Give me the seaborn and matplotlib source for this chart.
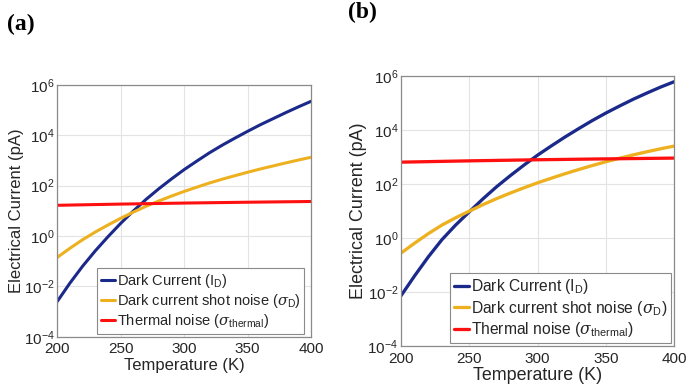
import numpy as np
import pandas as pd
import matplotlib
matplotlib.use("Agg")
import matplotlib.pyplot as plt
import seaborn as sns
from matplotlib.ticker import FixedLocator, FixedFormatter

# ---------------- data ----------------
temp_fine = [200, 210, 220, 230, 240, 250, 260, 270, 280, 290, 300,
             310, 320, 330, 340, 350, 360, 370, 380, 390, 400]
temp_coarse = [200, 250, 300, 350, 400]

# panel (a), pA
dark_a = [0.00251, 0.0135, 0.0631, 0.257, 0.933, 3.16, 9.77, 28.2, 74.1, 182, 427,
          933, 1995, 3981, 7586, 14125, 25704, 44668, 77625, 131826, 218776]
shot_a = [0.141, 0.324, 0.708, 1.43, 2.72, 5.01, 8.81, 15.0, 24.3, 38.0, 58.2,
          86.1, 126, 178, 245, 335, 452, 596, 785, 1023, 1318]
thermal_a = [16.4, 18.3, 20.1, 21.7, 23.2]

# panel (b), pA
dark_b = [0.00724, 0.0398, 0.200, 0.871, 3.02, 9.33, 28.2, 79.4, 204, 501, 1175,
          2570, 5495, 11220, 22387, 42658, 77625, 138038, 234423, 389045, 616595]
shot_b = [0.275, 0.646, 1.45, 3.02, 5.62, 9.89, 17.2, 28.8, 46.2, 72.4, 111,
          164, 240, 343, 484, 668, 902, 1202, 1567, 2018, 2541]
thermal_b = [645, 721, 791, 853, 912]

series_labels = [r"Dark Current (I$_{\mathrm{D}}$)",
                 r"Dark current shot noise ($\sigma_{\mathrm{D}}$)",
                 r"Thermal noise ($\sigma_{\mathrm{thermal}}$)"]
series_colors = ["#1b2a8a", "#EDB120", "#FF1010"]
x_ticks = [200, 250, 300, 350, 400]
y_exps = [-4, -2, 0, 2, 4, 6]
panel_labels = ["(a)", "(b)"]

# ---------------- style ----------------
sns.set_theme(style="whitegrid")
plt.rcParams["font.family"] = ["Liberation Sans", "DejaVu Sans"]
plt.rcParams["mathtext.fontset"] = "custom"
plt.rcParams["mathtext.rm"] = "Liberation Sans"
plt.rcParams["mathtext.it"] = "DejaVu Serif:italic"
plt.rcParams["mathtext.bf"] = "Liberation Sans:bold"

text_col = "#262626"

fig = plt.figure(figsize=(6.86, 3.88), dpi=100)
ax_a = fig.add_axes([0.0835, 0.1322, 0.3699, 0.6495])
ax_b = fig.add_axes([0.5845, 0.1082, 0.3984, 0.6959])


def draw(ax, dark, shot, thermal, legend_anchor, s, tick_size):
    df_fine = pd.DataFrame({"T": temp_fine, "dark": dark, "shot": shot})
    df_th = pd.DataFrame({"T": temp_coarse, "thermal": thermal})
    ax.set_yscale("log")
    sns.lineplot(data=df_fine, x="T", y="dark", ax=ax, color=series_colors[0],
                 linewidth=2.2 * s, label=series_labels[0])
    sns.lineplot(data=df_fine, x="T", y="shot", ax=ax, color=series_colors[1],
                 linewidth=2.2 * s, label=series_labels[1])
    sns.lineplot(data=df_th, x="T", y="thermal", ax=ax, color=series_colors[2],
                 linewidth=2.2 * s, label=series_labels[2])
    ax.set_xlim(200, 400)
    ax.set_ylim(1e-4, 1e6)
    ax.xaxis.set_major_locator(FixedLocator(x_ticks))
    ax.xaxis.set_major_formatter(FixedFormatter([str(v) for v in x_ticks]))
    ax.yaxis.set_major_locator(FixedLocator([10.0 ** e for e in y_exps]))
    ax.yaxis.set_major_formatter(FixedFormatter([f"$10^{{{e}}}$" for e in y_exps]))
    ax.yaxis.set_minor_locator(FixedLocator([]))
    ax.tick_params(axis="both", which="major", direction="in", length=3,
                   width=0.6, color="#555555", labelsize=tick_size, labelcolor=text_col)
    ax.tick_params(axis="x", pad=4)
    ax.tick_params(axis="y", pad=2)
    ax.grid(True, color="#e3e3e3", linewidth=0.8)
    for sp in ax.spines.values():
        sp.set_color("#8a8a8a")
        sp.set_linewidth(0.9)
    ax.set_xlabel("Temperature (K)", fontsize=12 * s, color=text_col, labelpad=1)
    ax.set_ylabel("Electrical Current (pA)", fontsize=12 * s, color=text_col, labelpad=0)
    leg = ax.legend(loc="lower right", bbox_to_anchor=legend_anchor, fontsize=10.5 * s,
                    frameon=True, fancybox=False, framealpha=1, edgecolor="#8a8a8a",
                    handlelength=1.0, handletextpad=0.1, borderpad=0.25,
                    labelspacing=0.15, borderaxespad=0.2)
    leg.get_frame().set_linewidth(0.8)
    for t in leg.get_texts():
        t.set_color(text_col)


draw(ax_a, dark_a, shot_a, thermal_a, (0.985, 0.0), 1.0, 11)
draw(ax_b, dark_b, shot_b, thermal_b, (1.0, 0.0), 1.07, 11)

fig.text(0.010, 0.965, panel_labels[0], fontsize=17, family="Liberation Serif",
         fontweight="bold", ha="left", va="top", color="black")
fig.text(0.508, 0.995, panel_labels[1], fontsize=17, family="Liberation Serif",
         fontweight="bold", ha="left", va="top", color="black")

fig.savefig("out.png", dpi=100, facecolor="white")
